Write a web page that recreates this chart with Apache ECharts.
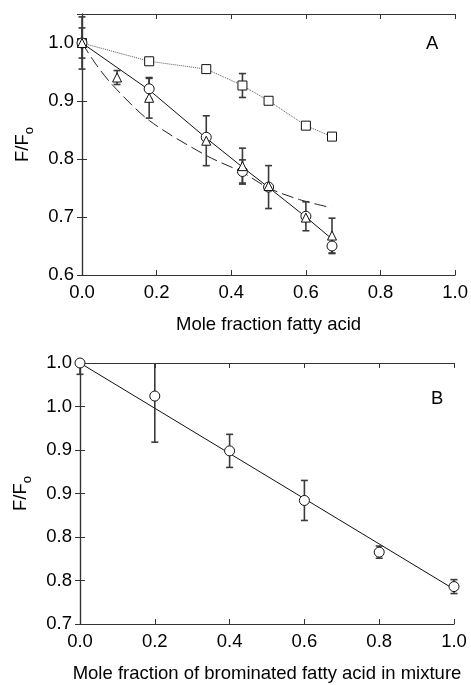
<!DOCTYPE html>
<html>
<head>
<meta charset="utf-8">
<script src="https://cdn.jsdelivr.net/npm/echarts@6/dist/echarts.min.js"></script>
<style>
  html, body { margin: 0; padding: 0; background: #fff; }
  #chart { width: 471px; height: 685px; }
</style>
</head>
<body>
<div id="chart"></div>
<script>
// ---- Panel A: mole fraction fatty acid ----
const xSquareA = [0, 0.18, 0.333, 0.43, 0.5, 0.6, 0.67];
const ySquareA = [1.0, 0.9685, 0.955, 0.9267, 0.9004, 0.8575, 0.8386];
const errSquareA = [0, 0.005, 0, 0.0206, 0.004, 0, 0];

const xCircleA = [0, 0.18, 0.333, 0.43, 0.5, 0.6, 0.67];
const yCircleA = [1.0, 0.921, 0.8375, 0.7785, 0.7516, 0.7013, 0.65];
const errCircleA = [0.045, 0.018, 0, 0.02, 0.037, 0.025, 0.013];

const xTriangleA = [0, 0.094, 0.18, 0.333, 0.43, 0.5, 0.6, 0.67];
const yTriangleA = [1.0, 0.9405, 0.9055, 0.8315, 0.7877, 0.7534, 0.699, 0.668];
const errTriangleA = [0.026, 0.012, 0.035, 0.043, 0.031, 0, 0, 0.03];

// solid line drawn through the circles / triangles
const xSolidA = [0, 0.18, 0.333, 0.43, 0.5, 0.6, 0.67];
const ySolidA = [1.0, 0.919, 0.836, 0.786, 0.751, 0.7, 0.662];

// dashed curve
const xDashedA = [0, 0.04, 0.084, 0.181, 0.333, 0.43, 0.5, 0.583, 0.668];
const yDashedA = [1.0, 0.961, 0.926, 0.866, 0.806, 0.777, 0.75, 0.73, 0.716];

// ---- Panel B: brominated fatty acid in mixture ----
const xCircleB = [0, 0.2, 0.4, 0.6, 0.8, 1.0];
const yCircleB = [1.0, 0.962, 0.899, 0.842, 0.7826, 0.743];
const errCircleB = [0.013, 0.053, 0.019, 0.023, 0.007, 0.008];

const xLineB = [0, 1.0];
const yLineB = [1.0, 0.74];

const xTickLabels = ['0.0', '0.2', '0.4', '0.6', '0.8', '1.0'];
const yTickLabelsA = ['0.6', '0.7', '0.8', '0.9', '1.0'];
const yTickLabelsB = ['0.7', '0.8', '0.8', '0.9', '0.9', '1.0', '1.0'];

const FONT = 'Liberation Sans, Arial, sans-serif';
const zip = (xs, ys) => xs.map((x, i) => [x, ys[i]]);

const axisLine = { show: true, lineStyle: { color: '#333', width: 1.2 } };
const axisTick = { show: true, inside: true, length: 5, lineStyle: { color: '#333', width: 1 } };
const labelStyle = { color: '#000', fontSize: 18.5, fontFamily: FONT };

function xAxes(gridIndex, name) {
  const base = {
    type: 'value', gridIndex, min: 0, max: 1, interval: 0.2,
    axisLine, axisTick, splitLine: { show: false },
  };
  return [
    Object.assign({}, base, {
      position: 'bottom',
      name, nameLocation: 'middle', nameGap: 40,
      nameTextStyle: labelStyle,
      axisLabel: Object.assign({ margin: 8, formatter: (v) => xTickLabels[Math.round(v / 0.2)] || '' }, labelStyle),
    }),
    Object.assign({}, base, { position: 'top', axisLabel: { show: false } }),
  ];
}

function yAxes(gridIndex, min, max, interval, labels) {
  const base = {
    type: 'value', gridIndex, min, max, interval,
    axisLine, axisTick, splitLine: { show: false },
  };
  return [
    Object.assign({}, base, {
      position: 'left',
      name: 'F/F{sub|o}', nameLocation: 'middle', nameGap: 46,
      nameTextStyle: Object.assign({
        lineHeight: 26,
        rich: { sub: { fontSize: 13, lineHeight: 13, verticalAlign: 'bottom', fontFamily: FONT, color: '#000' } },
      }, labelStyle),
      axisLabel: Object.assign({
        margin: 8,
        formatter: (v) => {
          const k = (v - min) / interval;
          return Math.abs(k - Math.round(k)) < 1e-6 ? (labels[Math.round(k)] || '') : '';
        },
      }, labelStyle),
    }),
    Object.assign({}, base, { position: 'right', axisLabel: { show: false } }),
  ];
}

function errorBars(axisIndex, xs, ys, errs, yMax) {
  return {
    type: 'custom',
    xAxisIndex: axisIndex, yAxisIndex: axisIndex,
    silent: true, z: 2,
    data: xs.map((x, i) => [x, ys[i], errs[i]]),
    renderItem: (params, api) => {
      const x = api.value(0), y = api.value(1), e = api.value(2);
      if (!e) return { type: 'group', children: [] };
      const hiVal = Math.min(y + e, yMax);
      const top = api.coord([x, hiVal]);
      const bot = api.coord([x, y - e]);
      const style = { stroke: '#3a3a3a', lineWidth: 1.6 };
      const w = 3.5;
      const children = [
        { type: 'line', shape: { x1: top[0], y1: top[1], x2: bot[0], y2: bot[1] }, style },
        { type: 'line', shape: { x1: bot[0] - w, y1: bot[1], x2: bot[0] + w, y2: bot[1] }, style },
      ];
      if (y + e <= yMax) {
        children.push({ type: 'line', shape: { x1: top[0] - w, y1: top[1], x2: top[0] + w, y2: top[1] }, style });
      }
      return { type: 'group', children };
    },
  };
}

function markers(axisIndex, xs, ys, symbol, size) {
  return {
    type: 'scatter', xAxisIndex: axisIndex, yAxisIndex: axisIndex,
    symbol, symbolSize: size, clip: false, z: 3, silent: true,
    itemStyle: { color: '#fff', borderColor: '#111', borderWidth: 1, opacity: 1 },
    data: zip(xs, ys),
  };
}

function curve(axisIndex, xs, ys, lineStyle, smooth) {
  return {
    type: 'line', xAxisIndex: axisIndex, yAxisIndex: axisIndex,
    symbol: 'none', smooth: smooth || false, z: 1, silent: true,
    lineStyle, data: zip(xs, ys),
  };
}

const chart = echarts.init(document.getElementById('chart'), null, { renderer: 'canvas' });

chart.setOption({
  animation: false,
  backgroundColor: '#fff',
  grid: [
    { left: 82, top: 14, width: 374, height: 261 },
    { left: 80, top: 363, width: 374, height: 261 },
  ],
  xAxis: [
    ...xAxes(0, 'Mole fraction fatty acid'),
    ...xAxes(1, 'Mole fraction of brominated fatty acid in mixture'),
  ],
  yAxis: [
    ...yAxes(0, 0.6, 1.05, 0.1, yTickLabelsA),
    ...yAxes(1, 0.7, 1.0, 0.05, yTickLabelsB),
  ],
  graphic: [
    { type: 'text', left: 426, top: 34, style: { text: 'A', fill: '#000', font: '18.5px ' + FONT } },
    { type: 'text', left: 431, top: 389, style: { text: 'B', fill: '#000', font: '18.5px ' + FONT } },
  ],
  series: [
    // panel A
    curve(0, xSquareA, ySquareA, { color: '#555', width: 1, type: 'dotted' }),
    curve(0, xSolidA, ySolidA, { color: '#111', width: 1 }),
    curve(0, xDashedA, yDashedA, { color: '#222', width: 1, type: [12, 5] }, 0.3),
    errorBars(0, xSquareA, ySquareA, errSquareA, 1.05),
    errorBars(0, xCircleA, yCircleA, errCircleA, 1.05),
    errorBars(0, xTriangleA, yTriangleA, errTriangleA, 1.05),
    markers(0, xSquareA, ySquareA, 'rect', 9),
    markers(0, xCircleA, yCircleA, 'circle', 10),
    markers(0, xTriangleA, yTriangleA, 'triangle', 9),
    // panel B
    curve(2, xLineB, yLineB, { color: '#111', width: 1 }),
    errorBars(2, xCircleB, yCircleB, errCircleB, 1.0),
    markers(2, xCircleB, yCircleB, 'circle', 10),
  ],
});
</script>
</body>
</html>
